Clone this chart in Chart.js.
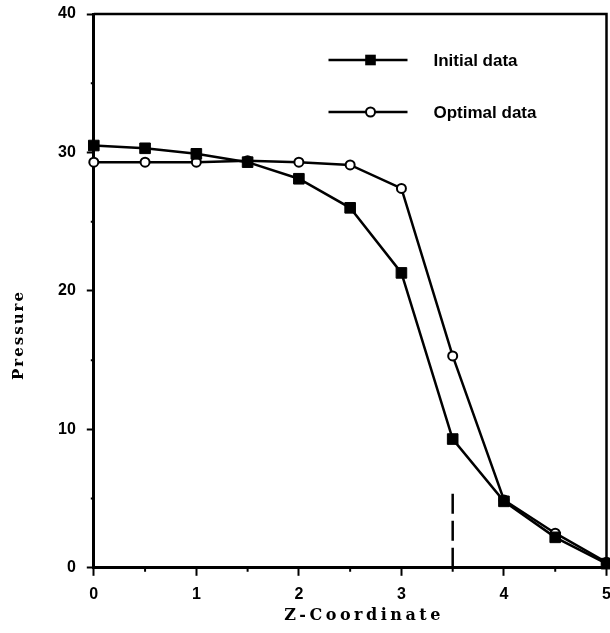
<!DOCTYPE html>
<html lang="en">
<head>
  <meta charset="UTF-8">
  <title>Pressure vs Z-Coordinate</title>
  <script src="https://cdn.jsdelivr.net/npm/chart.js"></script>
  <style>
      html, body { margin: 0; padding: 0; background: #fff; overflow: hidden; }
      #wrap { width: 610px; height: 633px; overflow: hidden; }
  </style>
</head>
<body>
  <div id="wrap">
    <canvas id="myChart" width="615" height="633"></canvas>
  </div>

  <script>
    // Values
    const zCoord = [0, 0.5, 1, 1.5, 2, 2.5, 3, 3.5, 4, 4.5, 5];
    const initialData = [30.5, 30.3, 29.9, 29.3, 28.1, 26.0, 21.3, 9.3, 4.8, 2.2, 0.3];
    const optimalData = [29.3, 29.3, 29.3, 29.4, 29.3, 29.1, 27.4, 15.3, 4.9, 2.5, 0.4];
    // dashed marker line at z = 3.5
    const dashZ = [3.5, 3.5];
    const dashP = [0, 5.8];

    const xMajor = [0, 1, 2, 3, 4, 5];
    const yMajor = [0, 10, 20, 30, 40];

    const toPoints = (xs, ys) => xs.map((x, i) => ({ x: x, y: ys[i] }));

    const tickFont = { family: 'Liberation Sans', size: 16, weight: 'bold' };

    // frame, minor ticks, legend and axis titles
    const decor = {
      id: 'decor',
      afterDraw(chart) {
        const { ctx, chartArea: a, scales } = chart;
        ctx.save();
        ctx.strokeStyle = '#000';
        ctx.lineWidth = 2.5;
        ctx.beginPath();
        ctx.moveTo(a.left, a.top);
        ctx.lineTo(a.right, a.top);
        ctx.lineTo(a.right, a.bottom);
        ctx.stroke();

        // minor ticks (short)
        ctx.lineWidth = 2;
        ctx.beginPath();
        scales.x.ticks.forEach(t => {
          if (xMajor.includes(t.value)) return;
          const px = scales.x.getPixelForValue(t.value);
          ctx.moveTo(px, a.bottom);
          ctx.lineTo(px, a.bottom + 4);
        });
        scales.y.ticks.forEach(t => {
          if (yMajor.includes(t.value)) return;
          const py = scales.y.getPixelForValue(t.value);
          ctx.moveTo(a.left - 3, py);
          ctx.lineTo(a.left, py);
        });
        ctx.stroke();

        // legend in the upper right of the plot
        [0, 1].forEach((di, i) => {
          const ds = chart.data.datasets[di];
          const y = a.top + 46 + i * 52;
          const x1 = a.right - 278, x2 = a.right - 199, xm = a.right - 236;
          ctx.lineWidth = 2.5;
          ctx.strokeStyle = '#000';
          ctx.beginPath();
          ctx.moveTo(x1, y);
          ctx.lineTo(x2, y);
          ctx.stroke();
          if (ds.pointStyle === 'rect') {
            const s = Math.SQRT1_2 * ds.pointRadius;
            ctx.fillStyle = ds.pointBackgroundColor;
            ctx.fillRect(xm - s, y - s, 2 * s, 2 * s);
          } else {
            ctx.beginPath();
            ctx.arc(xm, y, ds.pointRadius, 0, Math.PI * 2);
            ctx.fillStyle = ds.pointBackgroundColor;
            ctx.fill();
            ctx.lineWidth = ds.pointBorderWidth;
            ctx.stroke();
          }
          ctx.fillStyle = '#000';
          ctx.font = 'bold 17px "Liberation Sans"';
          ctx.textAlign = 'left';
          ctx.textBaseline = 'middle';
          ctx.fillText(ds.label, a.right - 173, y + 1);
        });

        // axis titles
        ctx.fillStyle = '#000';
        ctx.font = 'bold 16px "DejaVu Serif"';
        ctx.letterSpacing = '3.5px';
        ctx.textAlign = 'center';
        ctx.textBaseline = 'middle';
        ctx.fillText('Z-Coordinate', 364, 616);
        ctx.translate(19, 335);
        ctx.rotate(-Math.PI / 2);
        ctx.letterSpacing = '2px';
        ctx.font = 'bold 15px "DejaVu Serif"';
        ctx.fillText('Pressure', 0, 0);
        ctx.restore();
      }
    };

    const ctx = document.getElementById('myChart').getContext('2d');
    const myChart = new Chart(ctx, {
      type: 'scatter',
      data: {
        datasets: [
          {
            label: 'Initial data',
            data: toPoints(zCoord, initialData),
            showLine: true,
            borderColor: '#000',
            borderWidth: 2.5,
            pointStyle: 'rect',
            pointRadius: 7.5,
            pointBackgroundColor: '#000',
            pointBorderColor: '#000',
            pointBorderWidth: 1,
            clip: false
          },
          {
            label: 'Optimal data',
            data: toPoints(zCoord, optimalData),
            showLine: true,
            borderColor: '#000',
            borderWidth: 2.5,
            pointStyle: 'circle',
            pointRadius: 4.5,
            pointBackgroundColor: '#fff',
            pointBorderColor: '#000',
            pointBorderWidth: 2,
            clip: false
          },
          {
            label: 'dash',
            data: toPoints(dashZ, dashP),
            showLine: true,
            borderColor: '#000',
            borderWidth: 2.5,
            borderDash: [20, 7],
            pointRadius: 0
          }
        ]
      },
      options: {
        responsive: false,
        animation: false,
        events: [],
        layout: { padding: { left: 47, right: 4.5, top: 14, bottom: 20 } },
        plugins: {
          legend: { display: false },
          tooltip: { enabled: false }
        },
        scales: {
          x: {
            type: 'linear',
            min: 0,
            max: 5,
            afterFit: s => { s.paddingRight = 0; s.paddingLeft = 0; },
            border: { color: '#000', width: 3 },
            grid: {
              drawOnChartArea: false,
              tickLength: 8,
              tickWidth: 2,
              tickColor: c => xMajor.includes(c.tick.value) ? '#000' : 'rgba(0,0,0,0)'
            },
            ticks: {
              stepSize: 0.5,
              padding: 9,
              color: '#000',
              font: tickFont,
              maxRotation: 0,
              autoSkip: false,
              callback: v => xMajor.includes(v) ? String(v) : ''
            }
          },
          y: {
            min: 0,
            max: 40,
            afterFit: s => { s.paddingTop = 0; s.paddingBottom = 0; },
            border: { color: '#000', width: 3 },
            grid: {
              drawOnChartArea: false,
              tickLength: 7,
              tickWidth: 2,
              tickColor: c => yMajor.includes(c.tick.value) ? '#000' : 'rgba(0,0,0,0)'
            },
            ticks: {
              stepSize: 5,
              padding: 11,
              color: '#000',
              font: tickFont,
              autoSkip: false,
              callback: v => yMajor.includes(v) ? String(v) : ''
            }
          }
        }
      },
      plugins: [decor]
    });
  </script>
</body>
</html>
